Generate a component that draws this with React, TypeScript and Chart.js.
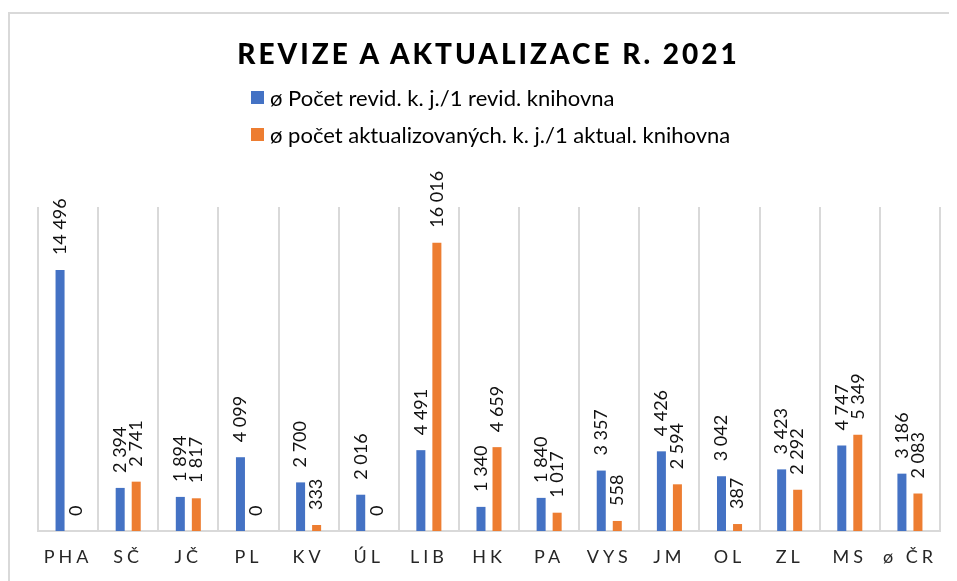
import React, { useEffect, useRef } from "react";
import { Chart, registerables } from "chart.js";

Chart.register(...registerables);

const categories = ["PHA", "SČ", "JČ", "PL", "KV", "ÚL", "LIB", "HK", "PA", "VYS", "JM", "OL", "ZL", "MS", "ø ČR"];
const revidValues = [14496, 2394, 1894, 4099, 2700, 2016, 4491, 1340, 1840, 3357, 4426, 3042, 3423, 4747, 3186];
const aktualValues = [0, 2741, 1817, 0, 333, 0, 16016, 4659, 1017, 558, 2594, 387, 2292, 5349, 2083];
const seriesNames = ["ø Počet revid. k. j./1 revid. knihovna", "ø počet aktualizovaných. k. j./1 aktual. knihovna"];
const seriesColors = ["#4472C4", "#ED7D31"];
const titleText = "REVIZE A AKTUALIZACE R. 2021";

const FONT = "Lato, 'Open Sans', sans-serif";

function fmt(v: number): string {
  return String(Math.round(v)).replace(/\B(?=(\d{3})+(?!\d))/g, " ");
}

const spacingPlugin = {
  id: "spacing",
  beforeDraw(chart: any) {
    chart.ctx.letterSpacing = "4px";
  },
  beforeDatasetsDraw(chart: any) {
    chart.ctx.letterSpacing = "0px";
  },
};

const labelPlugin = {
  id: "barLabels",
  afterDatasetsDraw(chart: any) {
    const ctx = chart.ctx;
    ctx.save();
    ctx.letterSpacing = "0px";
    ctx.font = `18px ${FONT}`;
    ctx.fillStyle = "#111";
    ctx.textAlign = "left";
    ctx.textBaseline = "middle";
    chart.data.datasets.forEach((ds: any, di: number) => {
      const meta = chart.getDatasetMeta(di);
      meta.data.forEach((bar: any, i: number) => {
        const v = ds.data[i];
        ctx.save();
        ctx.translate(bar.x, bar.y - 15);
        ctx.rotate(-Math.PI / 2);
        ctx.fillText(fmt(v), 0, 0);
        ctx.restore();
      });
    });
    ctx.restore();
  },
};

export default function App() {
  const canvasRef = useRef<HTMLCanvasElement | null>(null);

  useEffect(() => {
    if (!canvasRef.current) return;
    const chart = new Chart(canvasRef.current, {
      type: "bar",
      data: {
        labels: categories,
        datasets: [
          {
            label: seriesNames[0],
            data: revidValues,
            backgroundColor: seriesColors[0],
            categoryPercentage: 0.533,
            barPercentage: 0.5625,
          },
          {
            label: seriesNames[1],
            data: aktualValues,
            backgroundColor: seriesColors[1],
            categoryPercentage: 0.533,
            barPercentage: 0.5625,
          },
        ],
      },
      options: {
        animation: false,
        responsive: true,
        maintainAspectRatio: false,
        layout: { padding: { left: 30, right: 9, top: 199, bottom: 10 } },
        plugins: {
          legend: { display: false },
          title: { display: false },
          tooltip: { enabled: false },
        },
        scales: {
          x: {
            grid: { display: true, color: "#d9d9d9", lineWidth: 2, drawTicks: false, offset: true },
            border: { display: true, color: "#d9d9d9", width: 2 },
            ticks: {
              color: "#262626",
              font: { family: FONT, size: 18 },
              padding: 15,
              autoSkip: false,
              maxRotation: 0,
            },
            afterFit: (scale: any) => {
              scale.height = 40;
            },
          },
          y: {
            display: false,
            min: 0,
            max: 18000,
          },
        },
      },
      plugins: [spacingPlugin, labelPlugin],
    });
    return () => chart.destroy();
  }, []);

  return (
    <div style={{ position: "relative", width: 941, height: 573, overflow: "hidden", fontFamily: FONT }}>
      <div
        style={{
          position: "absolute",
          top: 4,
          left: 0,
          width: 1000,
          height: 1000,
          borderTop: "2px solid #d9d9d9",
          borderLeft: "2px solid #d9d9d9",
        }}
      />
      <div style={{ position: "absolute", top: 0, left: 0, width: 941, height: 573 }}>
        <canvas ref={canvasRef} />
      </div>
      <div
        style={{
          position: "absolute",
          top: 31,
          left: 0,
          width: 941,
          paddingLeft: 20,
          boxSizing: "border-box",
          textAlign: "center",
          fontSize: 28,
          lineHeight: "28px",
          fontWeight: 900,
          letterSpacing: "3px",
          color: "#000",
        }}
      >
        {titleText}
      </div>
      {seriesNames.map((name, i) => (
        <div
          key={name}
          style={{
            position: "absolute",
            left: 243,
            top: i === 0 ? 79 : 116,
            height: 20,
            display: "flex",
            alignItems: "center",
            fontSize: 22,
            color: "#000",
            whiteSpace: "nowrap",
          }}
        >
          <span style={{ display: "inline-block", width: 13, height: 13, background: seriesColors[i], marginRight: 6 }} />
          <span>{name}</span>
        </div>
      ))}
    </div>
  );
}
